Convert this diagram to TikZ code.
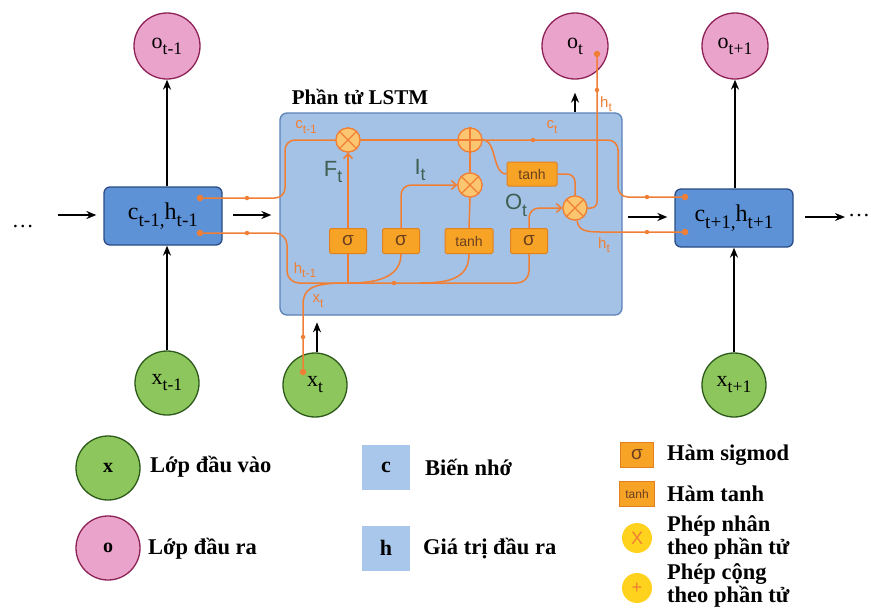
\documentclass[tikz,border=0pt]{standalone}
\usepackage{fontspec}
\setmainfont{Liberation Serif}
\newfontfamily\arialf{Liberation Sans}
\usetikzlibrary{arrows.meta,calc}
\definecolor{oL}{HTML}{F07F35}
\definecolor{gateF}{HTML}{F7A325}
\definecolor{gateB}{HTML}{E2801F}
\definecolor{gateT}{HTML}{6B4020}
\definecolor{opF}{HTML}{FBC66F}
\definecolor{cellF}{HTML}{5E92D6}
\definecolor{cellB}{HTML}{2B4C85}
\definecolor{lstmF}{HTML}{A4C2E6}
\definecolor{lstmB}{HTML}{5D82B8}
\definecolor{greenF}{HTML}{8DC65C}
\definecolor{greenB}{HTML}{2D5A1B}
\definecolor{pinkF}{HTML}{EAA3CB}
\definecolor{pinkB}{HTML}{8E2257}
\definecolor{legSq}{HTML}{A9C7EA}
\definecolor{yel}{HTML}{FFD21E}
\definecolor{fio}{HTML}{3F5F52}
\newcommand\lsub[1]{\raisebox{-0.6ex}{\scalebox{0.8}{#1}}}
\begin{document}
\begin{tikzpicture}[x=1pt,y=-1pt,
  outc/.style={circle, draw=pinkB, fill=pinkF, line width=1.3pt, minimum size=66pt, inner sep=0pt, font=\fontsize{22}{22}\selectfont},
  inc/.style={circle, draw=greenB, fill=greenF, line width=1.3pt, minimum size=64pt, inner sep=0pt, font=\fontsize{22}{22}\selectfont},
  cellbox/.style={draw=cellB, fill=cellF, rounded corners=6pt, line width=1.3pt, minimum width=118pt, minimum height=58pt, inner sep=0pt, font=\fontsize{24}{24}\selectfont},
  gate/.style={draw=gateB, fill=gateF, line width=1pt, minimum width=37pt, minimum height=25pt, inner sep=0pt, rounded corners=1.5pt, font=\arialf\fontsize{19}{19}\selectfont, text=gateT},
  gatet/.style={gate, font=\arialf\fontsize{14}{14}\selectfont},
  op/.style={circle, draw=oL, fill=opF, line width=1.2pt, minimum size=24pt, inner sep=0pt},
  ol/.style={draw=oL, line width=1.5pt},
  oarr/.style={-{Straight Barb[length=5pt,width=9pt]}},
  blk/.style={draw=black, line width=1.6pt, -{Stealth[length=10pt,width=8pt]}},
  odot/.style={circle, fill=oL, inner sep=0pt, minimum size=6.5pt},
  mdot/.style={circle, fill=oL, inner sep=0pt, minimum size=4.5pt},
  olab/.style={text=oL, font=\arialf\fontsize{15}{15}\selectfont, inner sep=0pt},
  glab/.style={text=fio, font=\arialf\fontsize{22}{22}\selectfont, inner sep=0pt},
  leg/.style={anchor=west, font=\bfseries\fontsize{22.5}{23}\selectfont, align=left, inner sep=0pt},
  sq/.style={fill=legSq, minimum width=48pt, minimum height=45pt, inner sep=0pt, font=\bfseries\fontsize{22}{22}\selectfont},
  yc/.style={circle, fill=yel, minimum size=30pt, inner sep=0pt, text=oL, font=\arialf\fontsize{18}{18}\selectfont}
]
\useasboundingbox (0,0) rectangle (871,611);
\fill[white] (0,0) rectangle (871,611);

% LSTM box
\node[draw=lstmB, fill=lstmF, line width=1.3pt, rounded corners=7pt, minimum width=342pt, minimum height=202pt] (L) at (451,214) {};
\node[font=\bfseries\fontsize{21}{21}\selectfont] (title) at (360,97) {Phần tử LSTM};

% outer nodes
\node[outc] (o1) at (167,46) {o\lsub{t-1}};
\node[outc] (o2) at (575,46) {o\lsub{t}};
\node[outc] (o3) at (735,46) {o\lsub{t+1}};
\node[inc] (x1) at (167,383) {x\lsub{t-1}};
\node[inc] (x2) at (315,385) {x\lsub{t}};
\node[inc] (x3) at (734,385) {x\lsub{t+1}};
\node[cellbox] (cL) at (163,216) {c\lsub{t-1,}h\lsub{t-1}};
\node[cellbox] (cR) at (734,218) {c\lsub{t+1,}h\lsub{t+1}};
\node[font=\fontsize{22}{22}\selectfont] (dl) at (23,227) {\dots};
\node[font=\fontsize{22}{22}\selectfont] (dr) at (859,216) {\dots};

% black arrows
\coordinate (a1) at (58,215);
\coordinate (a2) at (233,215);
\coordinate (a3) at (628,217);
\coordinate (a4) at (805,217);
\draw[blk] (a1) -- ($(a1 -| cL.west)+(-7,0)$);
\draw[blk] (a2) -- ($(a2 -| L.west)+(-8,0)$);
\draw[blk] (a3) -- ($(a3 -| cR.west)+(-7,0)$);
\draw[blk] (a4) -- ++(40,0);
\draw[blk] (cL.north -| o1) -- (o1.south);
\draw[blk] (x1.north) -- (x1.north |- cL.south);
\draw[blk, shorten >=13pt] (o2.south |- L.north) -- (o2.south);
\draw[blk] (cR.north -| o3) -- (o3.south);
\draw[blk] (x3.north) -- (x3.north |- cR.south);
\draw[blk] ($(x2.north)+(2,0)$) -- ++(0,-30);

% operators and gates
\node[op] (mf) at (348,140) {};
\node[op] (pl) at (470,140) {};
\node[op] (mi) at (470,185) {};
\node[op] (mo) at (575,208) {};
\node[gate] (s1) at (348,241) {σ};
\node[gate] (s2) at (401,241) {σ};
\node[gatet, minimum width=48pt] (th) at (469,241) {tanh};
\node[gate] (s4) at (529,241) {σ};
\node[gatet, minimum width=50pt, minimum height=24pt] (th2) at (532,174) {tanh};

% orange dots
\node[odot] (dc1) at (200,198) {};
\node[odot] (dh1) at (200,233) {};
\node[odot] (dc2) at (685,197) {};
\node[odot] (dh2) at (685,232) {};
\node[odot] (dx) at (303,372) {};
\node[odot] (dot) at (597,54) {};

% orange lines
\draw[ol, rounded corners=10pt] (dc1) -- (285,198) -- (285,140) -- (mf.west);
\draw[ol] (mf.east) -- (pl.west);
\draw[ol, rounded corners=10pt] (pl.east) -- (618,140) -- (618,197) -- (dc2);
\draw[ol, rounded corners=12pt] (dh1) -- (287,233) -- (287,283) -- (529,283) -- (s4.south);
\draw[ol] (s1.south) -- (s1.south |- 0,283);
\draw[ol] (s2.south) .. controls +(0,24) and +(25,0) .. (350,283);
\draw[ol] (th.south) .. controls +(0,24) and +(30,0) .. (420,283);
\draw[ol] (dx) -- (303,305) .. controls (303,290) and (310,283) .. (345,283);
\draw[ol, oarr] (s1.north) -- (mf.south);
\draw[ol, rounded corners=10pt, oarr] (s2.north) -- (401,185) -- (mi.west);
\draw[ol] (pl.south) -- (mi.north);
\draw[ol] (th.north) -- (mi.south);
\draw[ol] (pl.east) .. controls (497,140) and (492,174) .. (th2.west);
\draw[ol, rounded corners=8pt] (th2.east) -- (575,174) -- (mo.north);
\draw[ol, rounded corners=10pt, oarr] (s4.north) -- (529,208) -- (mo.west);
\draw[ol, rounded corners=6pt] (mo.east) -- (597,208) -- (dot);
\draw[ol] (mo.-80) .. controls (578,230) and (585,232) .. (600,232) -- (dh2);

% redraw operators on top
\foreach \n in {mf,pl,mi,mo}{\node[op] at (\n) {};}
\foreach \n in {mf,mi,mo}{\draw[oL, line width=1.2pt] (\n.north west) -- (\n.south east) (\n.north east) -- (\n.south west);}
\draw[oL, line width=1.2pt] (pl.north) -- (pl.south) (pl.west) -- (pl.east);

% mid marks
\foreach \p in {(247,198),(247,233),(533,140),(394,283),(647,197),(647,232),(597,90),(303,337)}{\node[mdot] at \p {};}

% labels
\node[olab] at (306,127) {c\lsub{t-1}};
\node[olab] at (552,127) {c\lsub{t}};
\node[olab] at (305,270) {h\lsub{t-1}};
\node[olab] at (318,301) {x\lsub{t}};
\node[olab] at (604,245) {h\lsub{t}};
\node[olab] at (606,104) {h\lsub{t}};
\node[glab] at (333,172) {F\lsub{t}};
\node[glab] at (420,170) {I\lsub{t}};
\node[glab] at (516,205) {O\lsub{t}};

% legend
\node[inc, font=\bfseries\fontsize{20}{20}\selectfont] (lx) at (108,468) {x};
\node[outc, minimum size=64pt, font=\bfseries\fontsize{20}{20}\selectfont] (lo) at (108,548) {o};
\node[leg] at (150,467) {Lớp đầu vào};
\node[leg] at (148,549) {Lớp đầu ra};
\node[sq] (lc) at (386,467) {c};
\node[sq] (lh) at (386,548) {h};
\node[leg] at (425,467) {Biến nhớ};
\node[leg] at (423,549) {Giá trị đầu ra};
\node[gate, minimum width=33pt, minimum height=25pt, rounded corners=0pt] (ls) at (637,455) {σ};
\node[gatet, minimum width=35pt, minimum height=25pt, rounded corners=0pt, font=\arialf\fontsize{12}{12}\selectfont] (lt) at (637,494) {tanh};
\node[yc] (lm) at (637,538) {X};
\node[yc] (lp) at (637,588) {+};
\node[leg] at (667,455) {Hàm sigmod};
\node[leg] at (667,494) {Hàm tanh};
\node[leg] at (667,537) {Phép nhân\\theo phần tử};
\node[leg] at (667,585) {Phép cộng\\theo phần tử};
\end{tikzpicture}
\end{document}
